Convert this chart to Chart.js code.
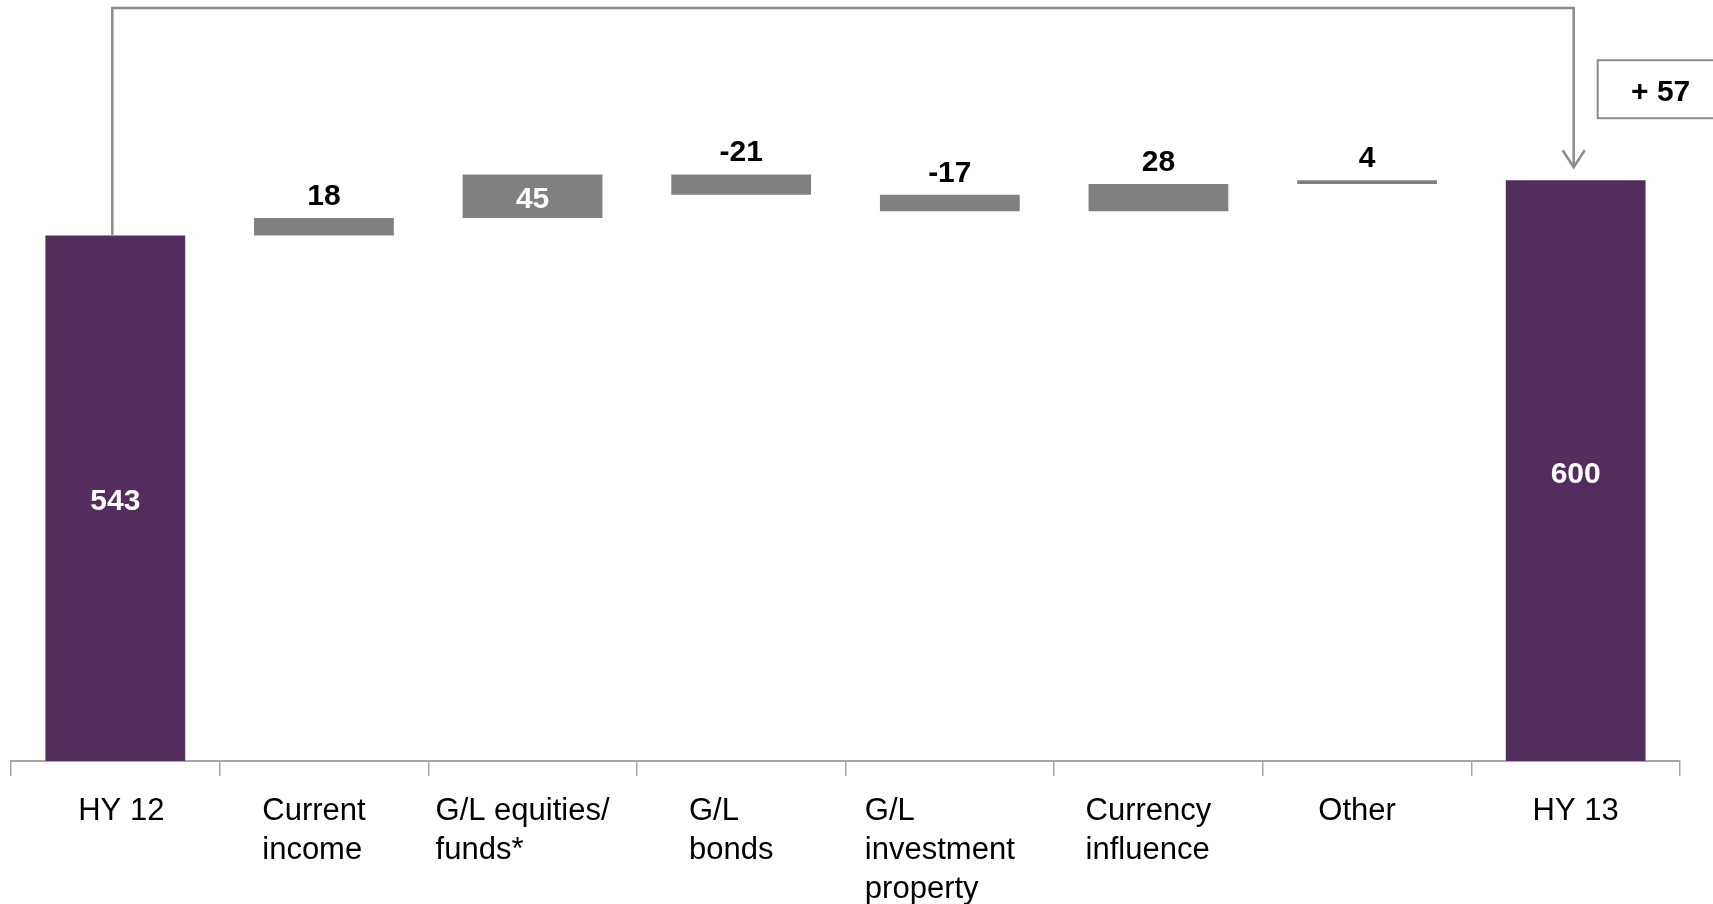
<!DOCTYPE html>
<html>
<head>
<meta charset="utf-8">
<title>Waterfall HY 12 to HY 13</title>
<script src="https://cdn.jsdelivr.net/npm/chart.js@4/dist/chart.umd.min.js"></script>
<style>
    html, body { margin: 0; padding: 0; background: #ffffff; }
    #wrap { width: 1713px; height: 904px; position: relative; }
</style>
</head>
<body>
<div id="wrap"><canvas id="bridgeChart"></canvas></div>
<script>
// =========================================
// Data
// =========================================
const categories = [
    ["HY 12"],
    ["Current", "income"],
    ["G/L equities/", "funds*"],
    ["G/L", "bonds"],
    ["G/L", "investment", "property"],
    ["Currency", "influence"],
    ["Other"],
    ["HY 13"],
];
const startTotal = 543;
const deltas = [18, 45, -21, -17, 28, 4];
const endTotal = 600;

const PURPLE = "#522d5e";
const GREY = "#808080";
const LINE_GREY = "#8c8c8c";
const AXIS_GREY = "#a6a6a6";
const FONT = "'Liberation Sans', Arial, sans-serif";

// running totals -> floating bars
const ranges = [[0, startTotal]];
let running = startTotal;
deltas.forEach((d) => {
    ranges.push([running, running + d]);
    running += d;
});
ranges.push([0, endTotal]);

const labelsText = [String(startTotal)]
    .concat(deltas.map((d) => String(d)))
    .concat([String(endTotal)]);
const barColors = ranges.map((r, i) =>
    i === 0 || i === ranges.length - 1 ? PURPLE : GREY
);

// =========================================
// Plugins: value labels, category labels, connector
// =========================================
const valueLabels = {
    id: "valueLabels",
    afterDatasetsDraw(chart) {
        const ctx = chart.ctx;
        const meta = chart.getDatasetMeta(0);
        ctx.save();
        ctx.font = "bold 30px " + FONT;
        ctx.textAlign = "center";
        meta.data.forEach((bar, i) => {
            const top = Math.min(bar.y, bar.base);
            const bottom = Math.max(bar.y, bar.base);
            const h = bottom - top;
            if (h > 36) {
                ctx.fillStyle = "#ffffff";
                ctx.textBaseline = "middle";
                ctx.fillText(labelsText[i], bar.x, (top + bottom) / 2 + 4);
            } else {
                ctx.fillStyle = "#000000";
                ctx.textBaseline = "alphabetic";
                ctx.fillText(labelsText[i], bar.x, top - 13);
            }
        });
        ctx.restore();
    },
};

const categoryLabels = {
    id: "categoryLabels",
    afterDraw(chart) {
        const ctx = chart.ctx;
        const xScale = chart.scales.x;
        const baseY = chart.chartArea.bottom + 59;
        const last = categories.length - 1;
        ctx.save();
        ctx.font = "31px " + FONT;
        ctx.fillStyle = "#000000";
        ctx.textAlign = "left";
        ctx.textBaseline = "alphabetic";
        categories.forEach((lines, i) => {
            const cx = xScale.getPixelForValue(i);
            const w = Math.max(...lines.map((l) => ctx.measureText(l).width));
            // inner text boxes sit a little left of the category centre
            const shift = i === 0 ? 6 : i === last ? 0 : -10;
            const left = cx - w / 2 + shift;
            lines.forEach((line, j) => {
                ctx.fillText(line, left, baseY + j * 39);
            });
        });
        ctx.restore();
    },
};

const connector = {
    id: "connector",
    afterDraw(chart) {
        const ctx = chart.ctx;
        const xScale = chart.scales.x;
        const yScale = chart.scales.y;
        const last = categories.length - 1;
        const x0 = xScale.getPixelForValue(0) - 3;
        const y0 = yScale.getPixelForValue(startTotal);
        const x1 = xScale.getPixelForValue(last) - 2;
        const y1 = yScale.getPixelForValue(endTotal) - 13;
        const yTop = chart.chartArea.top + 2;

        ctx.save();
        ctx.strokeStyle = LINE_GREY;
        ctx.lineWidth = 2.5;
        ctx.beginPath();
        ctx.moveTo(x0, y0);
        ctx.lineTo(x0, yTop);
        ctx.lineTo(x1, yTop);
        ctx.lineTo(x1, y1);
        ctx.stroke();
        // open arrow head
        ctx.beginPath();
        ctx.moveTo(x1 - 11, y1 - 17);
        ctx.lineTo(x1, y1);
        ctx.lineTo(x1 + 11, y1 - 17);
        ctx.stroke();

        // difference box
        const boxLeft = x1 + 24;
        const boxTop = y1 - 107;
        ctx.lineWidth = 2;
        ctx.strokeRect(boxLeft, boxTop, chart.width - boxLeft + 20, 58);
        ctx.font = "bold 30px " + FONT;
        ctx.fillStyle = "#000000";
        ctx.textAlign = "center";
        ctx.textBaseline = "alphabetic";
        const diff = endTotal - startTotal;
        ctx.fillText((diff >= 0 ? "+ " : "- ") + Math.abs(diff), boxLeft + 63, boxTop + 41);
        ctx.restore();
    },
};

// =========================================
// Chart
// =========================================
new Chart(document.getElementById("bridgeChart"), {
    type: "bar",
    data: {
        labels: categories,
        datasets: [
            {
                data: ranges,
                backgroundColor: barColors,
                borderWidth: 0,
                barPercentage: 0.67,
                categoryPercentage: 1.0,
            },
        ],
    },
    options: {
        responsive: true,
        maintainAspectRatio: false,
        animation: false,
        events: [],
        layout: {
            padding: { left: 11, right: 33, top: 6, bottom: 128 },
        },
        plugins: {
            legend: { display: false },
            tooltip: { enabled: false },
        },
        scales: {
            x: {
                ticks: { display: false },
                grid: {
                    display: true,
                    offset: true,
                    drawOnChartArea: false,
                    drawTicks: true,
                    tickLength: 15,
                    color: AXIS_GREY,
                    lineWidth: 1.5,
                },
                border: { display: true, color: AXIS_GREY, width: 2 },
            },
            y: {
                display: false,
                min: 0,
                max: 780,
            },
        },
    },
    plugins: [valueLabels, categoryLabels, connector],
});
</script>
</body>
</html>
